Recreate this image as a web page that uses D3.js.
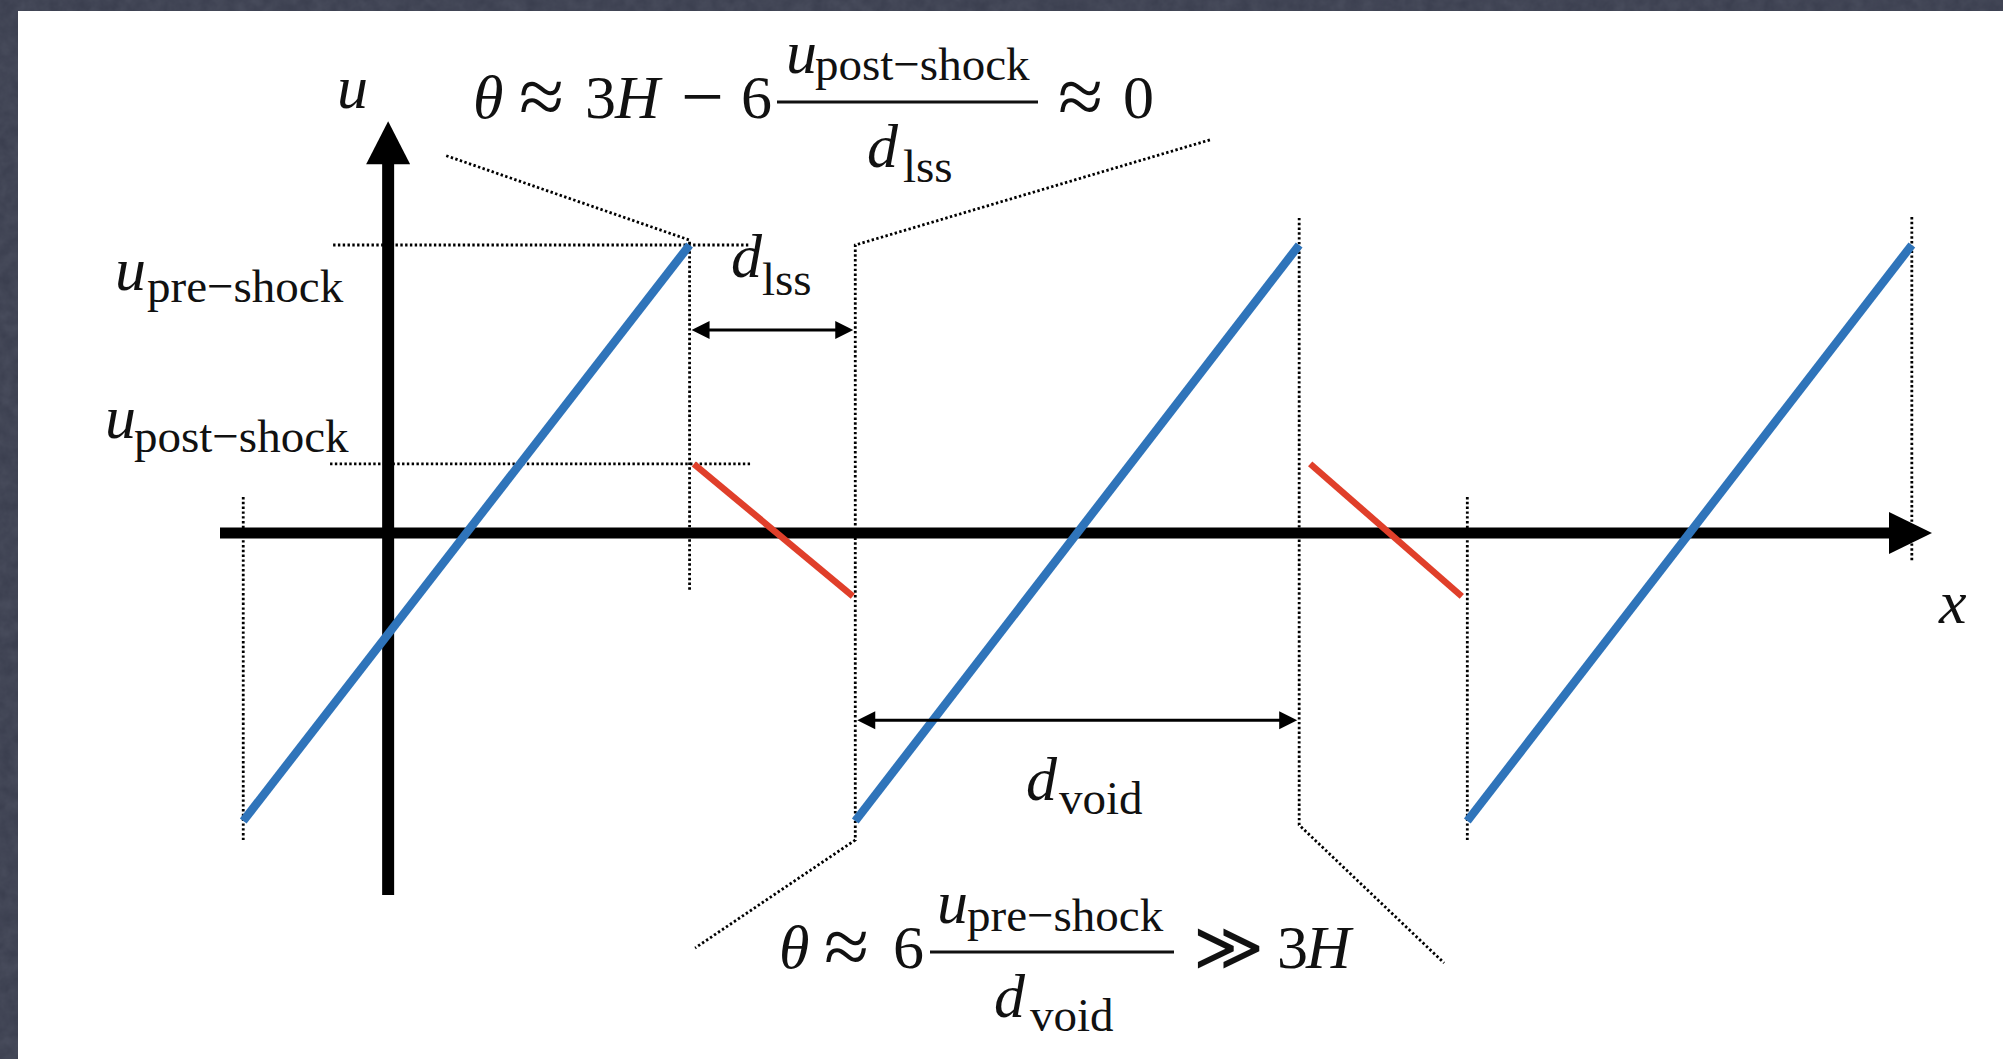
<!DOCTYPE html>
<html>
<head>
<meta charset="utf-8">
<script src="https://cdn.jsdelivr.net/npm/d3@7"></script>
<style>
  html, body { margin: 0; padding: 0; background: #3c4050; }
  svg { display: block; }
  text { font-family: "Liberation Serif", "Times New Roman", "DejaVu Serif", serif; fill: #111; }
</style>
</head>
<body>
<svg id="chart" width="2003" height="1059"></svg>
<script>
// Sawtooth velocity profile u(x): voids expand linearly (blue), shocked
// large-scale structures (red) carry a small, decreasing velocity.
const voidStart = [-2.37, 7.64, 17.65];   // x where each void segment begins
const voidEnd   = [4.93, 14.9, 24.92];    // x of each shock front
const voidU     = [-1.0, 1.0];            // u at the start / end of a void
const lssStart  = [5.0, 15.08];           // x where each structure begins
const lssEnd    = [7.6, 17.56];           // x where each structure ends
const lssU      = [0.24, -0.22];          // u at the start / end of a structure
const uPre  = 1.0;                        // pre-shock velocity
const uPost = 0.24;                       // post-shock velocity
const xDomain = [-2.75, 25.25];
const uDomain = [-1, 1];

const svg = d3.select("#chart");
const W = 2003, H = 1059;

// slate background with a faint grain, white panel on top
const defs = svg.append("defs");
const grain = defs.append("filter").attr("id", "grain")
  .attr("x", 0).attr("y", 0).attr("width", "100%").attr("height", "100%");
grain.append("feTurbulence").attr("type", "fractalNoise")
  .attr("baseFrequency", 0.08).attr("numOctaves", 3).attr("seed", 4);
grain.append("feColorMatrix").attr("type", "matrix")
  .attr("values", "0 0 0 0 0.62  0 0 0 0 0.65  0 0 0 0 0.75  0 0 0 0.35 -0.05");
svg.append("rect").attr("width", W).attr("height", H).attr("fill", "#3b3f4f");
svg.append("rect").attr("width", W).attr("height", H).attr("filter", "url(#grain)").attr("opacity", 0.35);
svg.append("rect").attr("x", 18).attr("y", 11).attr("width", W - 18).attr("height", H - 11).attr("fill", "#ffffff");

const x = d3.scaleLinear().domain(xDomain).range([220, 1932]);
const y = d3.scaleLinear().domain(uDomain).range([821, 245]);

const line = d3.line().x(d => x(d[0])).y(d => y(d[1]));
const dotted = g => g.attr("fill", "none").attr("stroke", "#000")
  .attr("stroke-width", 2.8).attr("stroke-dasharray", "2.4 2.4");

// ---- dotted guide lines ----
const guides = svg.append("g");
const guideSegs = [
  [[voidStart[0], 0.125], [voidStart[0], -1.066]],
  [[0.95, 1.31], [voidEnd[0], 1.017], [voidEnd[0], -0.198]],
  [[13.44, 1.365], [voidStart[1], 1.0], [voidStart[1], -1.066], [5.02, -1.441]],
  [[voidEnd[1], 1.094], [voidEnd[1], -1.014], [17.27, -1.493]],
  [[voidStart[2], 0.125], [voidStart[2], -1.066]],
  [[voidEnd[2], 1.097], [voidEnd[2], -0.1]],
  [[-0.9, uPre], [5.89, uPre]],
  [[-0.95, uPost], [5.92, uPost]]
];
guides.selectAll("path").data(guideSegs).join("path")
  .attr("d", line).call(dotted);

// ---- axes ----
const axes = svg.append("g").attr("fill", "#000");
const x0 = x(0), y0 = y(0);
const xTip = x(xDomain[1]), yTip = y(1.43);
axes.append("line").attr("x1", x(xDomain[0])).attr("x2", xTip - 40)
  .attr("y1", y0).attr("y2", y0).attr("stroke", "#000").attr("stroke-width", 11);
axes.append("path").attr("d", `M${xTip},${y0} L${xTip - 43},${y0 - 21} L${xTip - 43},${y0 + 21} Z`);
axes.append("line").attr("x1", x0).attr("x2", x0)
  .attr("y1", y(-1.257)).attr("y2", yTip + 40).attr("stroke", "#000").attr("stroke-width", 12);
axes.append("path").attr("d", `M${x0},${yTip} L${x0 - 22},${yTip + 43} L${x0 + 22},${yTip + 43} Z`);

// ---- velocity profile ----
const voids = voidStart.map((s, i) => [[s, voidU[0]], [voidEnd[i], voidU[1]]]);
svg.append("g").selectAll("path").data(voids).join("path")
  .attr("d", line).attr("stroke", "#2f74ba").attr("stroke-width", 8.5).attr("fill", "none");

const lss = lssStart.map((s, i) => [[s, lssU[0]], [lssEnd[i], lssU[1]]]);
svg.append("g").selectAll("path").data(lss).join("path")
  .attr("d", line).attr("stroke", "#e03f2a").attr("stroke-width", 6.5).attr("fill", "none");

// ---- width arrows ----
function dimArrow(xa, xb, u) {
  const ya = y(u), pa = x(xa) + 2, pb = x(xb) - 2, L = 18, h = 9;
  const g = svg.append("g");
  g.append("line").attr("x1", pa + 8).attr("x2", pb - 8).attr("y1", ya).attr("y2", ya)
    .attr("stroke", "#000").attr("stroke-width", 3);
  g.append("path").attr("fill", "#000")
    .attr("d", `M${pa},${ya} L${pa + L},${ya - h} L${pa + L},${ya + h} Z`);
  g.append("path").attr("fill", "#000")
    .attr("d", `M${pb},${ya} L${pb - L},${ya - h} L${pb - L},${ya + h} Z`);
}
dimArrow(voidEnd[0], voidStart[1], 0.705);
dimArrow(voidStart[1], voidEnd[1], -0.65);

// ---- math labels ----
const T = svg.append("g");
function txt(s, px, py, size, italic) {
  return T.append("text").attr("x", px).attr("y", py)
    .attr("font-size", size).attr("font-style", italic ? "italic" : "normal").text(s);
}
const big = 62, sub = 47, rel = 82;

// axis names
txt("u", 337, 108, big, true);
txt("x", 1939, 623, big, true);

// velocity levels
txt("u", 115, 290, big, true);
txt("pre\u2212shock", 147, 302, sub, false);
txt("u", 105, 438, big, true);
txt("post\u2212shock", 134, 452, sub, false);

// widths
txt("d", 731, 277, big, true);
txt("lss", 762, 295, sub, false);
txt("d", 1026, 800, big, true);
txt("void", 1059, 814, sub, false);

// expansion rate inside structures
txt("\u03b8", 473, 118, big, true);
txt("\u2248", 519, 124, rel, false);
txt("3", 585, 118, big, false);
txt("H", 615, 118, big, true);
txt("\u2212", 681, 122, 76, false);
txt("6", 741, 118, big, false);
T.append("line").attr("x1", 777).attr("x2", 1038).attr("y1", 102).attr("y2", 102)
  .attr("stroke", "#111").attr("stroke-width", 3);
txt("u", 786, 73, big, true);
txt("post\u2212shock", 815, 80, sub, false);
txt("d", 867, 167, big, true);
txt("lss", 903, 182, sub, false);
txt("\u2248", 1058, 124, rel, false);
txt("0", 1123, 118, big, false);

// expansion rate inside voids
txt("\u03b8", 779, 968, big, true);
txt("\u2248", 824, 974, rel, false);
txt("6", 893, 968, big, false);
T.append("line").attr("x1", 930).attr("x2", 1174).attr("y1", 952).attr("y2", 952)
  .attr("stroke", "#111").attr("stroke-width", 3);
txt("u", 937, 923, big, true);
txt("pre\u2212shock", 967, 931, sub, false);
txt("d", 994, 1017, big, true);
txt("void", 1030, 1031, sub, false);
txt("\u226b", 1193, 970, 68, false);
txt("3", 1277, 968, big, false);
txt("H", 1306, 968, big, true);
</script>
</body>
</html>
